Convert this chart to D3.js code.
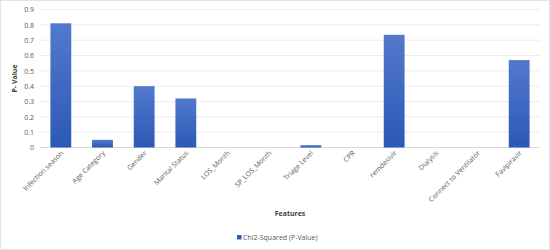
<!DOCTYPE html>
<html>
<head>
<meta charset="utf-8">
<script src="https://cdn.jsdelivr.net/npm/d3@7"></script>
<style>
  body { margin: 0; background: #fff; }
  text { font-family: "Open Sans", "Liberation Sans", sans-serif; }
</style>
</head>
<body>
<div id="chart"></div>
<script>
const features = ['Infection season', 'Age Category', 'Gender', 'Marital Status', 'LOS_Month',
  'SP_LOS_Month', 'Triage Level', 'CPR', 'remdesivir', 'Dialysis', 'Connect to Ventilator', 'Favipiravir'];
const pValues = [0.81, 0.05, 0.40, 0.32, 0, 0, 0.015, 0, 0.735, 0, 0, 0.57];
const yTicks = [0, 0.1, 0.2, 0.3, 0.4, 0.5, 0.6, 0.7, 0.8, 0.9];
const seriesName = 'Chi2-Squared (P-Value)';

const width = 550, height = 250;
const margin = { top: 9, right: 10, bottom: 102, left: 40 };

const svg = d3.select('#chart').append('svg')
  .attr('width', width)
  .attr('height', height);

svg.append('rect')
  .attr('x', 0.5).attr('y', 0.5)
  .attr('width', width - 1).attr('height', height - 1)
  .attr('fill', '#fff').attr('stroke', '#e4e4e4');

const defs = svg.append('defs');
const grad = defs.append('linearGradient')
  .attr('id', 'barGrad').attr('x1', 0).attr('y1', 0).attr('x2', 0).attr('y2', 1);
grad.append('stop').attr('offset', '0%').attr('stop-color', '#5279cc');
grad.append('stop').attr('offset', '100%').attr('stop-color', '#2c59b6');

const x = d3.scaleBand()
  .domain(features)
  .range([margin.left, width - margin.right])
  .paddingInner(0.5)
  .paddingOuter(0.25);

const y = d3.scaleLinear()
  .domain([0, 0.9])
  .range([height - margin.bottom - 0.5, margin.top + 0.5]);

// gridlines
svg.append('g')
  .selectAll('line')
  .data(yTicks)
  .join('line')
    .attr('x1', margin.left)
    .attr('x2', width - margin.right)
    .attr('y1', d => y(d))
    .attr('y2', d => y(d))
    .attr('stroke', d => d === 0 ? '#d9d9d9' : '#ececec')
    .attr('stroke-width', 1);

// y axis
svg.append('g')
  .attr('transform', `translate(${margin.left},0)`)
  .call(d3.axisLeft(y).tickValues(yTicks).tickFormat(d => d === 0 ? '0' : d3.format('.1f')(d)).tickSize(0).tickPadding(6))
  .call(g => g.select('.domain').remove())
  .call(g => g.selectAll('text').attr('fill', '#595959').attr('font-size', '7px'));

// bars
svg.append('g')
  .selectAll('rect')
  .data(pValues)
  .join('rect')
    .attr('x', (d, i) => x(features[i]))
    .attr('y', d => y(d))
    .attr('width', x.bandwidth())
    .attr('height', d => y(0) - y(d))
    .attr('fill', 'url(#barGrad)');

// x axis labels, rotated 45 degrees
svg.append('g')
  .selectAll('text')
  .data(features)
  .join('text')
    .attr('transform', d => `translate(${x(d) + x.bandwidth() / 2 + 3},${y(0) + 6}) rotate(-45)`)
    .attr('text-anchor', 'end')
    .attr('fill', '#595959')
    .attr('font-size', '7px')
    .text(d => d);

// axis titles
svg.append('text')
  .attr('transform', `translate(17,${(y(0) + y(0.9)) / 2}) rotate(-90)`)
  .attr('text-anchor', 'middle')
  .attr('fill', '#404040')
  .attr('font-size', '7px')
  .attr('font-weight', 'bold')
  .text('P- Value');

svg.append('text')
  .attr('x', 290)
  .attr('y', 216)
  .attr('text-anchor', 'middle')
  .attr('fill', '#404040')
  .attr('font-size', '7px')
  .attr('font-weight', 'bold')
  .text('Features');

// legend
const legend = svg.append('g').attr('transform', 'translate(237,240)');
legend.append('rect')
  .attr('x', 0).attr('y', -5)
  .attr('width', 4.5).attr('height', 4.5)
  .attr('fill', '#2f5bb7');
legend.append('text')
  .attr('x', 6).attr('y', 0)
  .attr('fill', '#595959')
  .attr('font-size', '7px')
  .text(seriesName);
</script>
</body>
</html>
